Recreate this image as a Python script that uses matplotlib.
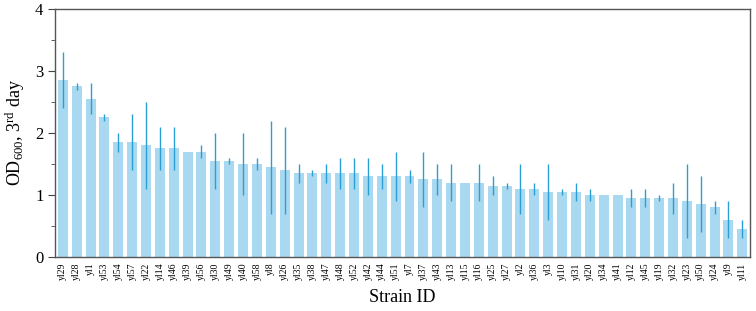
import matplotlib

matplotlib.use("Agg")
import matplotlib.pyplot as plt
import numpy as np
from matplotlib.ticker import MultipleLocator

plt.rcParams["font.family"] = ["Liberation Serif", "DejaVu Serif"]
plt.rcParams["mathtext.fontset"] = "custom"
plt.rcParams["mathtext.rm"] = "Liberation Serif"
plt.rcParams["mathtext.it"] = "Liberation Serif:italic"

strains = [
    "yl29", "yl28", "yl1", "yl53", "yl54", "yl57", "yl22", "yl14", "yl46", "yl39",
    "yl56", "yl30", "yl49", "yl40", "yl58", "yl8", "yl26", "yl35", "yl38", "yl47",
    "yl48", "yl52", "yl42", "yl44", "yl51", "yl7", "yl37", "yl43", "yl13", "yl15",
    "yl16", "yl25", "yl27", "yl2", "yl36", "yl3", "yl10", "yl31", "yl20", "yl34",
    "yl41", "yl12", "yl45", "yl19", "yl32", "yl23", "yl50", "yl24", "yl9", "yl11",
]
od600 = [
    2.85, 2.75, 2.55, 2.25, 1.85, 1.85, 1.80, 1.75, 1.75, 1.70,
    1.70, 1.55, 1.55, 1.50, 1.50, 1.45, 1.40, 1.35, 1.35, 1.35,
    1.35, 1.35, 1.30, 1.30, 1.30, 1.30, 1.25, 1.25, 1.20, 1.20,
    1.20, 1.15, 1.15, 1.10, 1.10, 1.05, 1.05, 1.05, 1.00, 1.00,
    1.00, 0.95, 0.95, 0.95, 0.95, 0.90, 0.85, 0.80, 0.60, 0.45,
]
err_low = [
    2.40, 2.70, 2.30, 2.20, 1.70, 1.40, 1.10, 1.40, 1.40, 1.70,
    1.60, 1.10, 1.50, 1.00, 1.40, 0.70, 0.70, 1.20, 1.30, 1.20,
    1.10, 1.10, 1.00, 1.10, 0.90, 1.20, 0.80, 1.00, 0.90, 1.20,
    0.90, 1.00, 1.10, 0.70, 1.00, 0.60, 1.00, 0.90, 0.90, 1.00,
    1.00, 0.80, 0.80, 0.90, 0.70, 0.30, 0.40, 0.70, 0.30, 0.30,
]
err_high = [
    3.30, 2.80, 2.80, 2.30, 2.00, 2.30, 2.50, 2.10, 2.10, 1.70,
    1.80, 2.00, 1.60, 2.00, 1.60, 2.20, 2.10, 1.50, 1.40, 1.50,
    1.60, 1.60, 1.60, 1.50, 1.70, 1.40, 1.70, 1.50, 1.50, 1.20,
    1.50, 1.30, 1.20, 1.50, 1.20, 1.50, 1.10, 1.20, 1.10, 1.00,
    1.00, 1.10, 1.10, 1.00, 1.20, 1.50, 1.30, 0.90, 0.90, 0.60,
]

x = np.arange(len(strains))
vals = np.array(od600)
yerr = [vals - np.array(err_low), np.array(err_high) - vals]

fig = plt.figure(figsize=(7.56, 3.11), dpi=100)
ax = fig.add_axes([0.073, 0.174, 0.919, 0.797])

ax.bar(x, vals, width=0.72, color="#a8d9f0")
ax.errorbar(x, vals, yerr=yerr, fmt="none", ecolor="#2a9fd6", elinewidth=1.0, capsize=0)

ax.set_xlim(-0.55, len(strains) - 0.45)
ax.set_ylim(0, 4)
ax.yaxis.set_major_locator(MultipleLocator(1))
ax.yaxis.set_minor_locator(MultipleLocator(0.5))
ax.tick_params(axis="y", which="major", direction="out", length=5, labelsize=12, color="#444444")
ax.tick_params(axis="y", which="minor", direction="out", length=3, color="#444444")
ax.set_xticks(x)
ax.set_xticklabels(strains, rotation=90, fontsize=7)
ax.tick_params(axis="x", length=0, pad=4)
for s in ax.spines.values():
    s.set_color("#555555")
    s.set_linewidth(1.0)

ax.set_ylabel(r"OD$_{600}$, 3$^{\rm rd}$ day", fontsize=13, labelpad=6)
ax.set_xlabel("Strain ID", fontsize=13, labelpad=6)

fig.savefig("out.png", dpi=100)
plt.close(fig)
